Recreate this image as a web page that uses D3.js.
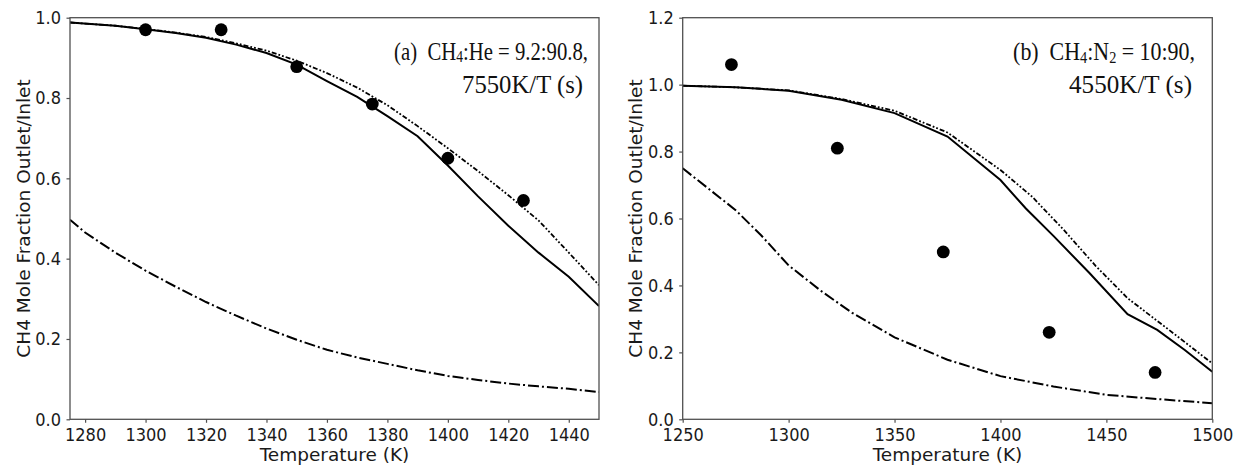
<!DOCTYPE html>
<html>
<head>
<meta charset="utf-8">
<script src="https://cdn.jsdelivr.net/npm/d3@7"></script>
<style>
  body { margin: 0; background: #fff; }
  svg { display: block; }
</style>
</head>
<body>
<div id="chart"></div>
<script>
// ── panel (a) CH4:He = 9.2:90.8 ────────────────────────────────────────────
const measTempA = [1300, 1325, 1350, 1375, 1400, 1425];
const measFracA = [0.970, 0.970, 0.878, 0.785, 0.650, 0.545];

const solidTempA = [1275, 1290, 1300, 1310, 1320, 1330, 1340, 1350, 1360, 1370, 1380, 1390, 1400, 1410, 1420, 1430, 1440, 1450];
const solidA     = [0.988, 0.980, 0.971, 0.962, 0.950, 0.933, 0.912, 0.883, 0.842, 0.803, 0.755, 0.705, 0.632, 0.555, 0.482, 0.415, 0.355, 0.282];
const ddotA      = [0.988, 0.980, 0.972, 0.963, 0.952, 0.936, 0.918, 0.893, 0.862, 0.826, 0.782, 0.730, 0.675, 0.618, 0.558, 0.495, 0.415, 0.334];

const dashDotTempA = [1275, 1280, 1290, 1300, 1310, 1320, 1330, 1340, 1350, 1360, 1370, 1380, 1390, 1400, 1410, 1420, 1430, 1440, 1450];
const dashDotA     = [0.497, 0.465, 0.415, 0.370, 0.330, 0.292, 0.258, 0.226, 0.198, 0.173, 0.154, 0.138, 0.122, 0.108, 0.098, 0.089, 0.082, 0.076, 0.068];

const xTicksA = [1280, 1300, 1320, 1340, 1360, 1380, 1400, 1420, 1440];
const yTicksA = [0, 0.2, 0.4, 0.6, 0.8, 1.0];

// ── panel (b) CH4:N2 = 10:90 ───────────────────────────────────────────────
const measTempB = [1273, 1323, 1373, 1423, 1473];
const measFracB = [1.06, 0.81, 0.50, 0.26, 0.14];

const solidTempB = [1250, 1275, 1300, 1325, 1350, 1375, 1400, 1412, 1425, 1442, 1460, 1474, 1487, 1500];
const solidB     = [0.997, 0.992, 0.982, 0.955, 0.915, 0.845, 0.715, 0.630, 0.548, 0.437, 0.314, 0.267, 0.207, 0.142];

const ddotTempB = [1250, 1275, 1300, 1325, 1350, 1375, 1400, 1415, 1430, 1445, 1460, 1480, 1500];
const ddotB     = [0.997, 0.992, 0.983, 0.957, 0.922, 0.857, 0.745, 0.665, 0.565, 0.458, 0.362, 0.265, 0.167];

const dashDotTempB = [1250, 1262, 1275, 1287, 1300, 1315, 1330, 1350, 1375, 1400, 1425, 1450, 1475, 1500];
const dashDotB     = [0.750, 0.690, 0.625, 0.550, 0.460, 0.385, 0.318, 0.245, 0.178, 0.129, 0.098, 0.073, 0.060, 0.048];

const xTicksB = [1250, 1300, 1350, 1400, 1450, 1500];
const yTicksB = [0, 0.2, 0.4, 0.6, 0.8, 1.0, 1.2];

const X_LABEL = "Temperature (K)";
const Y_LABEL = "CH4 Mole Fraction Outlet/Inlet";

// ── layout ────────────────────────────────────────────────────────────────
const W = 1236, H = 466;
const TOP = 17.7, BOTTOM = 419.3;
const TICK_FONT = 18, TICK_SX = 0.9;   // tick text looks horizontally squeezed
const FRAME = "#505050";

const zip = (xs, ys) => xs.map((t, i) => ({ t, v: ys[i] }));

const SOLID = { dash: null, width: 2 };
const DDOT  = { dash: "5,2,1.8,2,1.8,2", width: 1.8 };
const DDASH = { dash: "11,3,2,3", width: 2 };

const panels = [
  {
    id: "a", left: 70, right: 599,
    xDomain: [1275, 1450], yDomain: [0, 1.0],
    xTicks: xTicksA, yTicks: yTicksA,
    points: zip(measTempA, measFracA),
    curves: [
      { data: zip(solidTempA, solidA), ...SOLID },
      { data: zip(solidTempA, ddotA), ...DDOT },
      { data: zip(dashDotTempA, dashDotA), ...DDASH }
    ],
    note: [
      { right: 588, base: 60, width: 194, parts: [["(a)  CH", 0], ["4", 1.5], [":He = 9.2:90.8,", -1.5]] },
      { right: 583, base: 93, width: 121, parts: [["7550K/T (s)", 0]] }
    ]
  },
  {
    id: "b", left: 682.7, right: 1212.3,
    xDomain: [1250, 1500], yDomain: [0, 1.2],
    xTicks: xTicksB, yTicks: yTicksB,
    points: zip(measTempB, measFracB),
    curves: [
      { data: zip(solidTempB, solidB), ...SOLID },
      { data: zip(ddotTempB, ddotB), ...DDOT },
      { data: zip(dashDotTempB, dashDotB), ...DDASH }
    ],
    note: [
      { right: 1195, base: 60, width: 182, parts: [["(b)  CH", 0], ["4", 3], [":N", -3], ["2", 3], [" = 10:90,", -3]] },
      { right: 1192, base: 93, width: 123, parts: [["4550K/T (s)", 0]] }
    ]
  }
];

const svg = d3.select("#chart").append("svg")
  .attr("width", W).attr("height", H)
  .style("background", "#fff");

panels.forEach(p => {
  const x = d3.scaleLinear().domain(p.xDomain).range([p.left, p.right]);
  const y = d3.scaleLinear().domain(p.yDomain).range([BOTTOM, TOP]);
  const g = svg.append("g").attr("class", `panel-${p.id}`);

  g.append("clipPath").attr("id", `clip-${p.id}`)
    .append("rect")
      .attr("x", p.left).attr("y", TOP)
      .attr("width", p.right - p.left).attr("height", BOTTOM - TOP);

  // model curves
  const line = d3.line().x(d => x(d.t)).y(d => y(d.v));
  g.append("g").attr("clip-path", `url(#clip-${p.id})`)
    .selectAll("path")
    .data(p.curves)
    .join("path")
      .attr("d", c => line(c.data))
      .attr("fill", "none")
      .attr("stroke", "#000")
      .attr("stroke-width", c => c.width)
      .attr("stroke-dasharray", c => c.dash);

  // measured points
  g.selectAll("circle.pt")
    .data(p.points)
    .join("circle")
      .attr("class", "pt")
      .attr("cx", d => x(d.t))
      .attr("cy", d => y(d.v))
      .attr("r", 6.4)
      .attr("fill", "#000");

  // frame
  g.append("rect")
    .attr("x", p.left).attr("y", TOP)
    .attr("width", p.right - p.left).attr("height", BOTTOM - TOP)
    .attr("fill", "none").attr("stroke", FRAME).attr("stroke-width", 1.3);

  // axes
  const xAxis = g.append("g")
    .attr("transform", `translate(0,${BOTTOM})`)
    .call(d3.axisBottom(x).tickValues(p.xTicks).tickSize(3.5).tickPadding(5.4).tickFormat(d3.format("d")));
  const yAxis = g.append("g")
    .attr("transform", `translate(${p.left},0)`)
    .call(d3.axisLeft(y).tickValues(p.yTicks).tickSize(3.5).tickPadding(5.5).tickFormat(d3.format(".1f")));

  [xAxis, yAxis].forEach(ax => {
    ax.select(".domain").remove();
    ax.selectAll(".tick line").attr("stroke", FRAME).attr("stroke-width", 1.2);
    ax.selectAll(".tick text")
      .attr("fill", "#1a1a1a")
      .style("font-family", "'DejaVu Sans', sans-serif")
      .style("font-size", `${TICK_FONT}px`)
      .attr("transform", `scale(${TICK_SX},1)`);
  });
  yAxis.selectAll(".tick text").attr("x", -9 / TICK_SX);

  // axis titles
  g.append("text")
    .attr("x", (p.left + p.right) / 2).attr("y", 461)
    .attr("text-anchor", "middle")
    .style("font-family", "'DejaVu Sans', sans-serif")
    .style("font-size", "18.5px")
    .attr("fill", "#1a1a1a")
    .text(X_LABEL);

  g.append("text")
    .attr("transform", `translate(${p.left - 40.5},${(TOP + BOTTOM) / 2}) rotate(-90)`)
    .attr("text-anchor", "middle")
    .style("font-family", "'DejaVu Sans', sans-serif")
    .style("font-size", "18.5px")
    .attr("fill", "#1a1a1a")
    .text(Y_LABEL);

  // annotation: serif text, squeezed sideways to the width it has in the figure
  p.note.forEach(n => {
    const holder = g.append("g");
    const t = holder.append("text")
      .attr("text-anchor", "end")
      .style("font-family", "'Liberation Serif', 'Times New Roman', serif")
      .style("font-size", "26px")
      .style("white-space", "pre")
      .attr("fill", "#111");
    n.parts.forEach(([txt, dy]) => {
      t.append("tspan")
        .attr("dy", dy)
        .style("font-size", /^[0-9]$/.test(txt) ? "17px" : null)
        .text(txt);
    });
    const w = t.node().getComputedTextLength() || n.width;
    holder.attr("transform", `translate(${n.right},${n.base}) scale(${n.width / w},1)`);
  });
});
</script>
</body>
</html>
